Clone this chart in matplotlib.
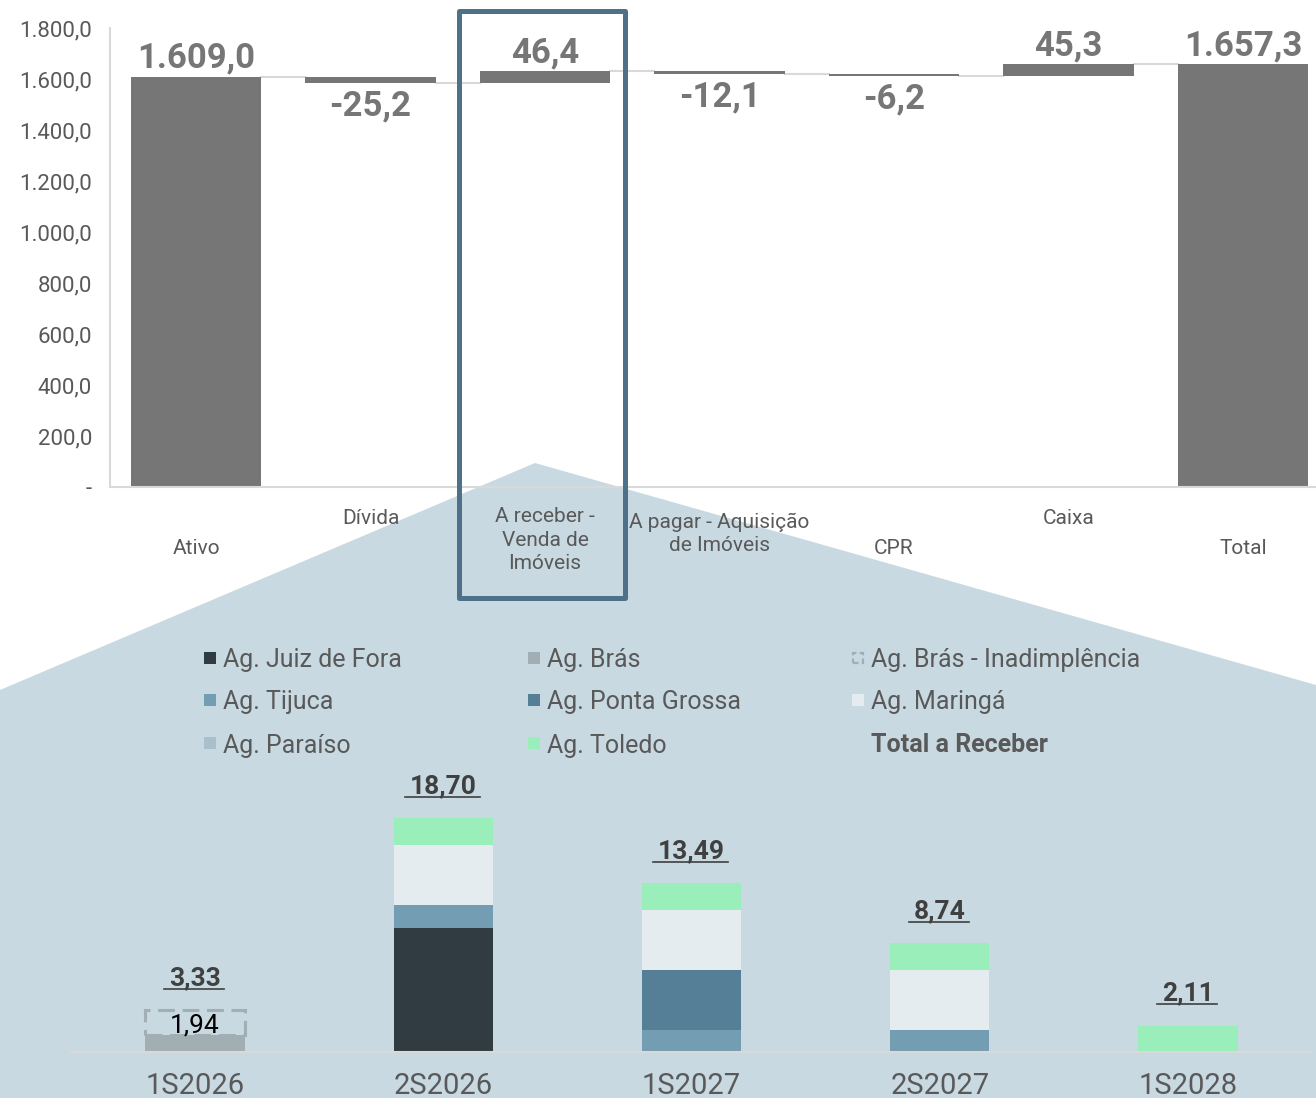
import matplotlib
matplotlib.use('Agg')
import matplotlib.pyplot as plt
from matplotlib.patches import Polygon, Rectangle
from matplotlib.transforms import blended_transform_factory

plt.rcParams['font.family'] = ['Roboto', 'DejaVu Sans']

# ---- data: waterfall (R$ milhões)
wf_cats = ['Ativo', 'Dívida', 'A receber -\nVenda de\nImóveis',
           'A pagar - Aquisição\nde Imóveis', 'CPR', 'Caixa', 'Total']
wf_vals = [1609.0, -25.2, 46.4, -12.1, -6.2, 45.3, 1657.3]

# ---- data: recebíveis por semestre
periods = ['1S2026', '2S2026', '1S2027', '2S2027', '1S2028']
ag_juiz = [0, 9.90, 0, 0, 0]
ag_bras = [1.39, 0, 0, 0, 0]
ag_bras_inad = [1.94, 0, 0, 0, 0]
ag_tijuca = [0, 1.84, 1.73, 1.78, 0]
ag_paraiso = [0, 0, 0, 0, 0]
ag_ponta = [0, 0, 4.80, 0, 0]
ag_maringa = [0, 4.80, 4.80, 4.80, 0]
ag_toledo = [0, 2.16, 2.16, 2.16, 2.11]
totals = [3.33, 18.70, 13.49, 8.74, 2.11]

W, H = 1316, 1098
def fx(x): return x / W
def fy(y): return 1 - y / H

def br(v, dec=1):
    s = f'{v:,.{dec}f}'
    return s.replace(',', '#').replace('.', ',').replace('#', '.')

GRAY = '#767676'
TXT = '#595959'
BG = '#c8d9e1'

fig = plt.figure(figsize=(W / 100, H / 100), dpi=100)

# background wedge
poly = Polygon([(fx(0), fy(690)), (fx(535), fy(463)), (fx(1316), fy(685)),
                (fx(1316), fy(1098)), (fx(0), fy(1098))],
               closed=True, transform=fig.transFigure, facecolor=BG,
               edgecolor='none', zorder=-1)
fig.add_artist(poly)

# ---- top waterfall
ax1 = fig.add_axes([fx(110), fy(487), fx(1316) - fx(110), (487 - 28) / H])
ax1.patch.set_visible(False)
ax1.set_xlim(-0.493, 6.418)
ax1.set_ylim(0, 1800)

n = len(wf_vals)
run = 0
levels = []
for i, v in enumerate(wf_vals):
    if i == 0 or i == n - 1:
        bottom, height = 0, v
        run = v
    else:
        bottom = run + min(v, 0)
        height = abs(v)
        run = run + v
    ax1.bar(i, height, bottom=bottom, width=0.75, color=GRAY, zorder=2)
    levels.append(run)
    if i == 0 or i == n - 1 or v > 0:
        ax1.annotate(br(v), xy=(i, bottom + height), xytext=(0, 6.5),
                     textcoords='offset points', ha='center', va='baseline',
                     fontsize=25, fontweight='bold', color=GRAY)
    else:
        ax1.annotate(br(v), xy=(i, bottom), xytext=(0, -4.5),
                     textcoords='offset points', ha='center', va='top',
                     fontsize=25, fontweight='bold', color=GRAY)

# connectors
for i in range(n - 1):
    ax1.plot([i + 0.375, i + 1 - 0.375], [levels[i], levels[i]],
             color='#d9d9d9', lw=1.5, zorder=1)

ax1.set_yticks(range(0, 1801, 200))
ax1.set_yticklabels(['-' if t == 0 else br(t) for t in range(0, 1801, 200)],
                    fontsize=16, color=TXT)
ax1.set_xticks([])
ax1.tick_params(axis='y', length=0, pad=13)
for s in ['top', 'right']:
    ax1.spines[s].set_visible(False)
for s in ['left', 'bottom']:
    ax1.spines[s].set_color('#d9d9d9')
    ax1.spines[s].set_linewidth(1.5)

lbl_y = [548, 519, 540, 534, 548, 519, 548]
tr = blended_transform_factory(ax1.transData, fig.transFigure)
for i, c in enumerate(wf_cats):
    ax1.text(i, fy(lbl_y[i]), c, transform=tr, ha='center', va='center',
             fontsize=15, color=TXT, linespacing=1.3, clip_on=False)

# highlight box
box = Rectangle((fx(458.5), fy(597.5)), fx(624.5) - fx(458.5),
                (597.5 - 10.5) / H, transform=fig.transFigure, fill=False,
                edgecolor='#4e7189', lw=3.6, joinstyle='round', zorder=10)
fig.add_artist(box)

# ---- bottom stacked bars
ax2 = fig.add_axes([fx(71), fy(1052), fx(1312) - fx(71), 250 / H])
ax2.patch.set_visible(False)
ax2.set_xlim(-0.5, 4.5)
ax2.set_ylim(0, 20)

series = [
    ('Ag. Juiz de Fora', ag_juiz, '#303b42'),
    ('Ag. Brás', ag_bras, '#a1aeb4'),
    ('Ag. Brás - Inadimplência', ag_bras_inad, None),
    ('Ag. Tijuca', ag_tijuca, '#739db3'),
    ('Ag. Paraíso', ag_paraiso, '#a9bfcc'),
    ('Ag. Ponta Grossa', ag_ponta, '#557e97'),
    ('Ag. Maringá', ag_maringa, '#e4ecef'),
    ('Ag. Toledo', ag_toledo, '#9aeeb9'),
]
bottoms = [0.0] * len(periods)
bw = 0.4
for name, vals, col in series:
    for i, v in enumerate(vals):
        if v <= 0:
            continue
        if col is None:
            r = Rectangle((i - bw / 2, bottoms[i]), bw, v, fill=False,
                          edgecolor='#a1aeb4', lw=2.2, linestyle=(0, (5.5, 2.5)),
                          zorder=3)
            ax2.add_patch(r)
            ax2.annotate(br(v, 2), xy=(i, bottoms[i] + v / 2), xytext=(0, -7.5),
                         textcoords='offset points', ha='center', va='baseline',
                         fontsize=19, color='black', zorder=4)
        else:
            ax2.bar(i, v, bottom=bottoms[i], width=bw, color=col, zorder=2)
        bottoms[i] += v

for s in ['top', 'right', 'left']:
    ax2.spines[s].set_visible(False)
ax2.spines['bottom'].set_color('#d9d9d9')
ax2.spines['bottom'].set_linewidth(1.5)
ax2.set_yticks([])
ax2.set_xticks([])
tr2 = blended_transform_factory(ax2.transData, ax2.transAxes)
for i, p in enumerate(periods):
    ax2.text(i, -42 / 250, p, transform=tr2, ha='center', va='baseline',
             fontsize=21, color=TXT, clip_on=False)

fig.canvas.draw()
rend = fig.canvas.get_renderer()
inv = ax2.transData.inverted()
for i, t in enumerate(totals):
    txt = ax2.text(i, t + 2.0, br(t, 2), ha='center', va='baseline',
                   fontsize=19, fontweight='bold', color='#404040',
                   clip_on=False)
    bb = txt.get_window_extent(rend)
    x0 = inv.transform((bb.x0 - 5, 0))[0]
    x1 = inv.transform((bb.x1 + 3, 0))[0]
    ax2.plot([x0, x1], [t + 1.7, t + 1.7], color='#404040', lw=1.2,
             clip_on=False)

# ---- legend (row-wise)
leg = [
    ('Ag. Juiz de Fora', '#303b42'), ('Ag. Brás', '#a1aeb4'),
    ('Ag. Brás - Inadimplência', None),
    ('Ag. Tijuca', '#739db3'), ('Ag. Ponta Grossa', '#557e97'),
    ('Ag. Maringá', '#e4ecef'),
    ('Ag. Paraíso', '#a9bfcc'), ('Ag. Toledo', '#9aeeb9'),
    ('Total a Receber', 'total'),
]
col_x = [204, 528, 852]
row_y = [658, 700, 743]
for k, (name, col) in enumerate(leg):
    x = col_x[k % 3]
    y = row_y[k // 3]
    if col == 'total':
        fig.text(fx(x + 19), fy(y), name, ha='left', va='center_baseline',
                 fontsize=18, fontweight='bold', color=TXT)
        continue
    if col is None:
        m = Rectangle((fx(x + 1), fy(y + 5)), 10 / W, 10 / H, fill=False,
                      edgecolor='#a1aeb4', lw=1.6, linestyle=(0, (2.5, 1.5)),
                      transform=fig.transFigure)
    else:
        m = Rectangle((fx(x), fy(y + 6)), 12 / W, 12 / H, facecolor=col,
                      edgecolor='none', transform=fig.transFigure)
    fig.add_artist(m)
    fig.text(fx(x + 19), fy(y), name, ha='left', va='center_baseline',
             fontsize=18, color=TXT)

fig.savefig('out.png', dpi=100)
